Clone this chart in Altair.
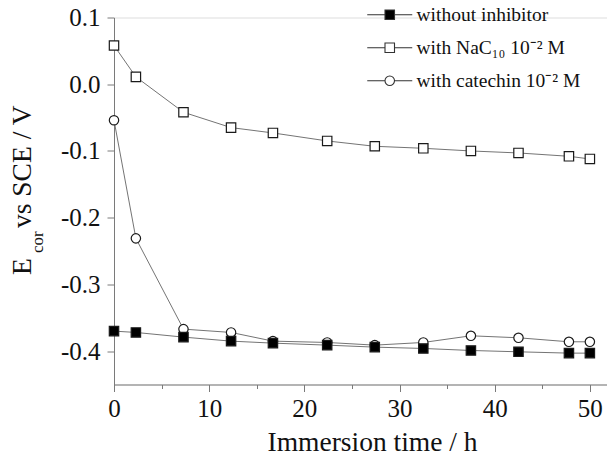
import altair as alt
import pandas as pd

# ---- data ----
time_h = [0, 2.3, 7.3, 12.3, 16.7, 22.4, 27.4, 32.5, 37.5, 42.5, 47.8, 50]
without_inhibitor = [-0.370, -0.372, -0.379, -0.385, -0.388, -0.391, -0.394, -0.396, -0.399, -0.401, -0.403, -0.403]
with_nac10 = [0.058, 0.011, -0.042, -0.065, -0.073, -0.085, -0.093, -0.096, -0.100, -0.103, -0.108, -0.112]
with_catechin = [-0.054, -0.231, -0.367, -0.372, -0.385, -0.387, -0.391, -0.387, -0.377, -0.380, -0.386, -0.386]

series_names = ["without inhibitor", "with NaC\u2081\u2080 10\u207b\u00b2 M", "with catechin 10\u207b\u00b2 M"]
x_ticks = [0, 5, 10, 15, 20, 25, 30, 35, 40, 45, 50]
y_ticks = [0.1, 0.05, 0.0, -0.05, -0.1, -0.15, -0.2, -0.25, -0.3, -0.35, -0.4]
x_title = "Immersion time / h"

rows = []
for name, vals in zip(series_names, [without_inhibitor, with_nac10, with_catechin]):
    for t, v in zip(time_h, vals):
        rows.append({"t": t, "E": v, "series": name})
df = pd.DataFrame(rows)

FONT = "Liberation Serif"
AX = "#7a7a7a"

xscale = alt.Scale(domain=[0, 51.8], nice=False, zero=False)
yscale = alt.Scale(domain=[-0.45, 0.1], nice=False, zero=False)

x_minor_test = "datum.value % 10 !== 0"
y_minor_test = "abs(round(datum.value * 100)) % 10 === 5"

x_axis = alt.Axis(orient="bottom", values=x_ticks, grid=False,
                  labelExpr=f"({x_minor_test}) ? '' : format(datum.value, 'd')",
                  domainColor=AX, domainWidth=1, tickColor=AX, tickWidth=1,
                  tickSize={"condition": {"test": x_minor_test, "value": 4}, "value": 7},
                  labelFont=FONT, labelFontSize=25, labelColor="#111", labelPadding=5,
                  labelFlush=False, labelOverlap=False,
                  title=x_title, titleFont=FONT, titleFontSize=27.5, titleFontWeight="normal",
                  titleColor="#111", titleX=258, titleY=66, titleAlign="center",
                  titleBaseline="alphabetic")
y_axis = alt.Axis(orient="left", values=y_ticks, grid=False,
                  labelExpr=f"({y_minor_test}) ? '' : (datum.value < -0.0001 ? '-' + format(-datum.value, '.1f') : format(abs(datum.value), '.1f'))",
                  domainColor=AX, domainWidth=1, tickColor=AX, tickWidth=1,
                  tickSize={"condition": {"test": y_minor_test, "value": 4}, "value": 7},
                  labelFont=FONT, labelFontSize=25, labelColor="#111", labelPadding=7,
                  labelFlush=False, labelOverlap=False, title=None)

base = alt.Chart(df)

lines = base.mark_line(color="#747474", strokeWidth=1).encode(
    x=alt.X("t:Q", scale=xscale, axis=x_axis),
    y=alt.Y("E:Q", scale=yscale, axis=y_axis),
    detail="series:N",
)

points = base.mark_point(size=88, opacity=1, stroke="#1a1a1a", strokeWidth=1.2, filled=False).encode(
    x=alt.X("t:Q", scale=xscale),
    y=alt.Y("E:Q", scale=yscale),
    shape=alt.Shape("series:N", scale=alt.Scale(domain=series_names, range=["square", "square", "circle"]), legend=None),
    fill=alt.Fill("series:N", scale=alt.Scale(domain=series_names, range=["#000000", "#ffffff", "#ffffff"]), legend=None),
    order=alt.Order("series:N"),
)

r = 0.95
k = round(0.5523 * r, 3)
sq_path = f"M-4.5,0H-{r}M{r},0H4.5M-{r},-{r}H{r}V{r}H-{r}Z"
ci_path = (f"M-4.5,0H-{r}M{r},0H4.5M-{r},0C-{r},-{k},-{k},-{r},0,-{r}C{k},-{r},{r},-{k},{r},0"
           f"C{r},{k},{k},{r},0,{r}C-{k},{r},-{r},{k},-{r},0Z")

leg = dict(orient="none", legendX=266, legendY=-12.5, title=None,
           labelFont=FONT, labelFontSize=19.5, labelColor="#111",
           labelOffset=17, rowPadding=12, symbolSize=100,
           symbolStrokeWidth=1.1, padding=0, labelLimit=300)

legend_layer = base.transform_filter("false").mark_point(size=100, opacity=1, strokeWidth=1.1, filled=False).encode(
    x=alt.X("t:Q", scale=xscale),
    y=alt.Y("E:Q", scale=yscale),
    shape=alt.Shape("series:N", scale=alt.Scale(domain=series_names, range=[sq_path, sq_path, ci_path]),
                    legend=alt.Legend(**leg)),
    fill=alt.Fill("series:N", scale=alt.Scale(domain=series_names, range=["#000000", "#ffffff", "#ffffff"]),
                  legend=alt.Legend(**leg)),
    stroke=alt.Stroke("series:N", scale=alt.Scale(domain=series_names, range=["#333333", "#333333", "#333333"]),
                      legend=alt.Legend(**leg)),
)

one = pd.DataFrame({"a": [0]})
t_E = alt.Chart(one).mark_text(text="E", font=FONT, fontSize=27.5, angle=270, align="left",
                                baseline="alphabetic", color="#111").encode(x=alt.value(-83), y=alt.value(257.5))
t_cor = alt.Chart(one).mark_text(text="cor", font=FONT, fontSize=17, angle=270, align="left",
                                  baseline="alphabetic", color="#111").encode(x=alt.value(-71), y=alt.value(235.5))
t_rest = alt.Chart(one).mark_text(text="vs SCE / V", font=FONT, fontSize=27.5, angle=270, align="left",
                                   baseline="alphabetic", color="#111").encode(x=alt.value(-83), y=alt.value(210.5))

chart = alt.layer(lines, points, legend_layer, t_E, t_cor, t_rest).resolve_scale(
    shape="independent", fill="independent", stroke="independent"
).properties(
    width=493, height=367,
    autosize=alt.AutoSizeParams(type="none"),
    padding={"left": 114, "top": 17.5, "right": 0, "bottom": 74.5},
).configure_view(stroke=None).configure_axis(labelFont=FONT).configure(background="white")

chart.save("out.html", embed_options={"renderer": "svg", "actions": False})
